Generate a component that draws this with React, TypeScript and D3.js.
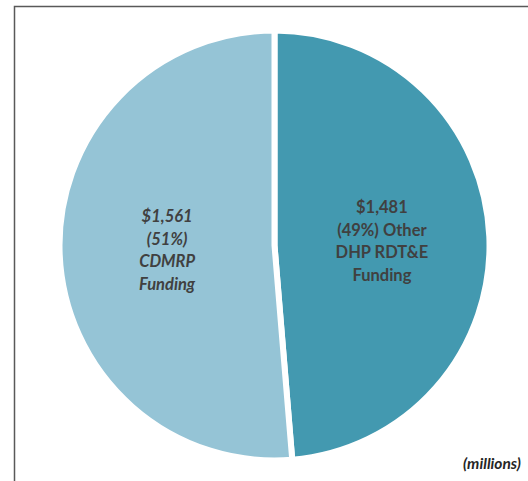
import { useEffect, useRef } from "react";
import * as d3 from "d3";

const categories = ["Other DHP RDT&E Funding", "CDMRP Funding"];
const values = [1481, 1561];
const labels = [
  ["$1,481", "(49%) Other", "DHP RDT&E", "Funding"],
  ["$1,561", "(51%)", "CDMRP", "Funding"],
];
const colors = ["#4399B0", "#95C4D6"];
const italics = [false, true];

export default function App() {
  const ref = useRef<SVGSVGElement>(null);

  useEffect(() => {
    const width = 528;
    const height = 481;
    const cx = 274.5;
    const cy = 245.5;
    const r = 215;

    const svg = d3.select(ref.current);
    svg.selectAll("*").remove();

    svg
      .append("rect")
      .attr("width", width)
      .attr("height", height)
      .attr("fill", "#fff");

    // frame (continues past the right and bottom edge)
    svg
      .append("path")
      .attr("d", `M14.5,${height + 5} L14.5,6.5 L${width + 5},6.5`)
      .attr("fill", "none")
      .attr("stroke", "#595959")
      .attr("stroke-width", 1.5);

    const data = categories.map((c, i) => ({ c, v: values[i], i }));
    const pie = d3
      .pie<{ c: string; v: number; i: number }>()
      .sort(null)
      .value((d) => d.v);
    const arcs = pie(data);
    const arc = d3
      .arc<d3.PieArcDatum<{ c: string; v: number; i: number }>>()
      .innerRadius(0)
      .outerRadius(r);

    const g = svg.append("g").attr("transform", `translate(${cx},${cy})`);

    g.selectAll("path")
      .data(arcs)
      .join("path")
      .attr("d", arc)
      .attr("fill", (d) => colors[d.data.i])
      .attr("stroke", "#fff")
      .attr("stroke-width", 6)
      .attr("stroke-linejoin", "miter");

    const lineH = 22.5;
    arcs.forEach((a) => {
      const [x, y] = arc.centroid(a);
      const lines = labels[a.data.i];
      const t = g
        .append("text")
        .attr("text-anchor", "middle")
        .attr("font-family", "Lato, 'Open Sans', sans-serif")
        .attr("font-weight", "bold")
        .attr("font-style", italics[a.data.i] ? "italic" : "normal")
        .attr("font-size", 16.5)
        .attr("fill", "#404040");
      lines.forEach((l, k) => {
        t.append("tspan")
          .attr("x", x)
          .attr("y", y + (k - (lines.length - 1) / 2) * lineH + 6)
          .text(l);
      });
    });

    svg
      .append("text")
      .attr("x", 521)
      .attr("y", 469)
      .attr("text-anchor", "end")
      .attr("font-family", "Lato, 'Open Sans', sans-serif")
      .attr("font-weight", "bold")
      .attr("font-style", "italic")
      .attr("font-size", 15.5)
      .attr("fill", "#262626")
      .text("(millions)");
  }, []);

  return (
    <svg
      ref={ref}
      width={528}
      height={481}
      style={{ position: "absolute", left: 0, top: 0 }}
    />
  );
}
